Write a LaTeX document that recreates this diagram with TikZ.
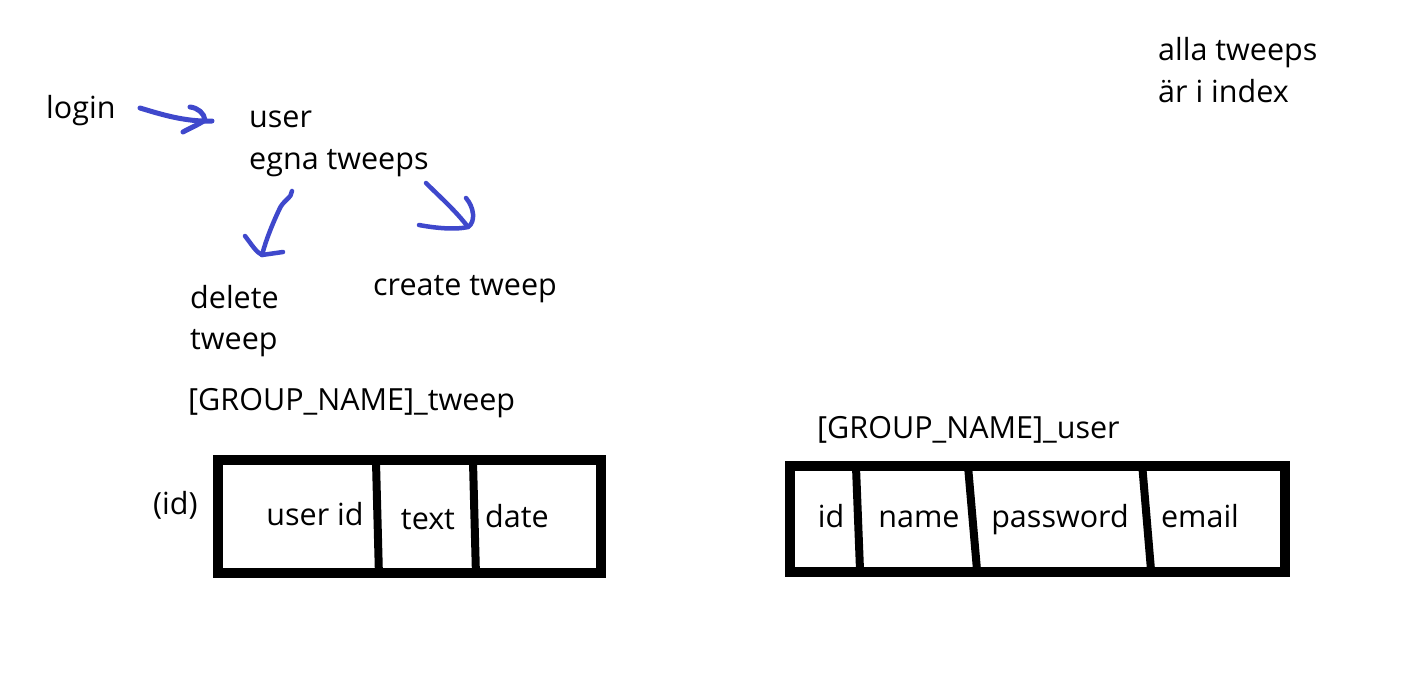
\documentclass[tikz,border=0pt]{standalone}
\usepackage{fontspec}
\setmainfont{Open Sans}
\begin{document}
\begin{tikzpicture}[x=1pt,y=-1pt,
  lbl/.style={anchor=base west,inner sep=0pt,font=\fontsize{30.5}{42}\selectfont},
  cell/.style={anchor=base,inner sep=0pt,font=\fontsize{30.5}{42}\selectfont},
  ink/.style={draw=inkblue,line width=4.5pt,line cap=round,line join=round},
  frame/.style={draw=black,line width=10pt},
  divider/.style={draw=black,line width=8pt}]
\definecolor{inkblue}{RGB}{63,72,204}
\useasboundingbox[fill=white] (0,0) rectangle (1416,672);
% labels
\node[lbl] (login) at (46,118) {login};
\node[lbl] (user) at (249,127) {user};
\node[lbl] (egna) at (249,169) {egna tweeps};
\node[lbl] (delete) at (190,308) {delete};
\node[lbl] (tweep) at (190,349) {tweep};
\node[lbl] (create) at (373,295) {create tweep};
\node[lbl] (gtweep) at (188,410) {[GROUP\_NAME]\_tweep};
\node[lbl] (guser) at (817,438) {[GROUP\_NAME]\_user};
\node[lbl] (alla) at (1158,60) {alla tweeps};
\node[lbl] (index) at (1158,102) {är i index};
\node[lbl] (idp) at (153,514) {(id)};
% arrow coordinates
\coordinate (a1s) at (140,108);
\coordinate (a1e) at (212,121);
\coordinate (a2s) at (292,191);
\coordinate (a2e) at (262,255);
\coordinate (a3s) at (426,183);
\coordinate (a3e) at (468,227);
% login -> user
\draw[ink,line width=5pt] (a1s) .. controls (160,114) and (185,122) .. (a1e);
\draw[ink,line width=5pt] (190,107) .. controls (198,108) and (204,113) .. (205,120) .. controls (198,125) and (190,128) .. (183,132);
% egna -> delete
\draw[ink] (a2s) .. controls (292,198) and (283,200) .. (279,210) .. controls (272,225) and (266,240) .. (a2e);
\draw[ink] (245,236) .. controls (252,245) and (256,252) .. (a2e) -- (283,252);
% egna -> create
\draw[ink] (a3s) .. controls (440,197) and (455,210) .. (a3e);
\draw[ink] (466,198) .. controls (474,207) and (476,222) .. (a3e) .. controls (455,230) and (435,228) .. (419,225);
% table tweep
\draw[frame] (218,460) rectangle (601,573);
\draw[divider] (376,462) -- (379,577);
\draw[divider] (473,462) -- (476,576);
\node[cell] (uid) at (315,525) {user id};
\node[cell] (txt) at (428,529) {text};
\node[cell] (dat) at (517,527) {date};
% table user
\draw[frame] (790,466) rectangle (1285,572);
\draw[divider] (856,467) -- (860,570);
\draw[divider] (968,466) -- (977,570);
\draw[divider] (1142,463) -- (1151,570);
\node[cell] (cid) at (831,527) {id};
\node[cell] (cname) at (919,527) {name};
\node[cell] (cpw) at (1060,527) {password};
\node[cell] (cmail) at (1200,527) {email};
\end{tikzpicture}
\end{document}
